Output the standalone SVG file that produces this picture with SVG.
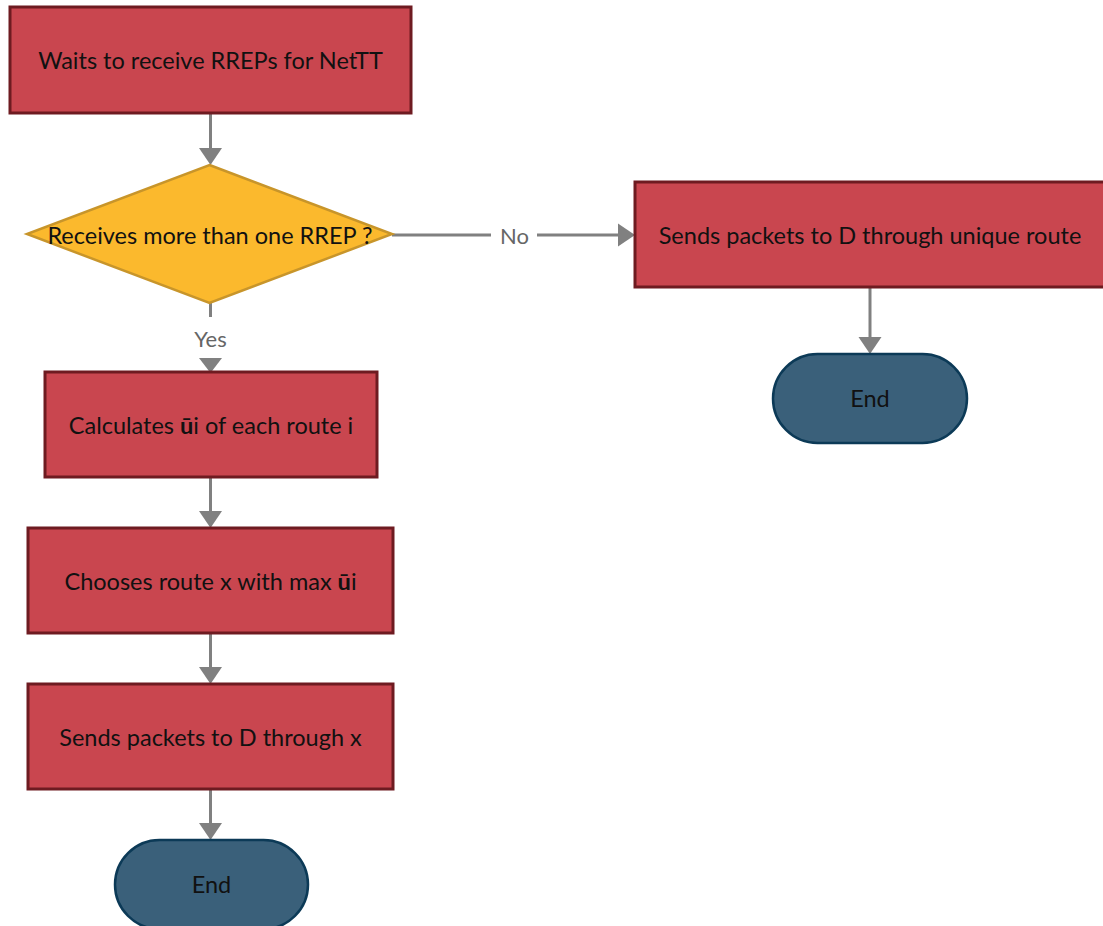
<svg xmlns="http://www.w3.org/2000/svg" width="1103" height="926" viewBox="0 0 1103 926">
<defs>
<style>
.proc{fill:#C9464F;stroke:#6E1B21;stroke-width:3}
.dec{fill:#FBB92D;stroke:#C8952A;stroke-width:2.5}
.term{fill:#3A607A;stroke:#0C3A57;stroke-width:2.5}
.t{font-family:Lato,"Liberation Sans",sans-serif;font-size:23.5px;fill:#111;text-anchor:middle;dominant-baseline:central}
.lbl{font-family:Lato,"Liberation Sans",sans-serif;font-size:22px;fill:#666;text-anchor:middle;dominant-baseline:central}
.c{stroke:#808080;stroke-width:3;fill:none}
</style>
</defs>
<rect width="1103" height="926" fill="#ffffff"/>
<g id="connectors">
<line class="c" x1="210.5" y1="113" x2="210.5" y2="150"/>
<path d="M199,148 L222,148 L210.5,165 Z" fill="#808080"/>
<line class="c" x1="210.5" y1="303" x2="210.5" y2="317"/>
<path d="M199,358 L222,358 L210.5,373 Z" fill="#808080"/>
<line class="c" x1="210.5" y1="477" x2="210.5" y2="512"/>
<path d="M199,511 L222,511 L210.5,528 Z" fill="#808080"/>
<line class="c" x1="210.5" y1="633" x2="210.5" y2="668"/>
<path d="M199,667 L222,667 L210.5,684 Z" fill="#808080"/>
<line class="c" x1="210.5" y1="789" x2="210.5" y2="824"/>
<path d="M199,823 L222,823 L210.5,840 Z" fill="#808080"/>
<line class="c" x1="392" y1="235" x2="491" y2="235"/>
<line class="c" x1="537" y1="235" x2="620" y2="235"/>
<path d="M618,223.5 L618,246.5 L635,235 Z" fill="#808080"/>
<line class="c" x1="870" y1="287" x2="870" y2="338"/>
<path d="M858.5,337 L881.5,337 L870,354 Z" fill="#808080"/>
<text class="lbl" x="210.5" y="338">Yes</text>
<text class="lbl" x="514.5" y="235">No</text>
</g>
<g id="n1">
<rect class="proc" x="10" y="7" width="401" height="106"/>
<text class="t" x="210.5" y="60">Waits to receive RREPs for NetTT</text>
</g>
<g id="n2">
<polygon class="dec" points="209.5,165 392,234 209.5,303 27,234"/>
<text class="t" x="210" y="235">Receives more than one RREP ?</text>
</g>
<g id="n3">
<rect class="proc" x="45" y="372" width="332" height="105"/>
<text class="t" x="211" y="425">Calculates <tspan font-weight="bold">ū</tspan>i of each route i</text>
</g>
<g id="n4">
<rect class="proc" x="28" y="528" width="365" height="105"/>
<text class="t" x="210.5" y="581">Chooses route x with max <tspan font-weight="bold">ū</tspan>i</text>
</g>
<g id="n5">
<rect class="proc" x="28" y="684" width="365" height="105"/>
<text class="t" x="210.5" y="737">Sends packets to D through x</text>
</g>
<g id="n6">
<rect class="term" x="115" y="840" width="193" height="89" rx="44.5" ry="44.5"/>
<text class="t" x="211.5" y="884">End</text>
</g>
<g id="n7">
<rect class="proc" x="635" y="182" width="470" height="105"/>
<text class="t" x="870" y="235">Sends packets to D through unique route</text>
</g>
<g id="n8">
<rect class="term" x="773" y="354" width="194" height="89" rx="44.5" ry="44.5"/>
<text class="t" x="870" y="398">End</text>
</g>
</svg>
